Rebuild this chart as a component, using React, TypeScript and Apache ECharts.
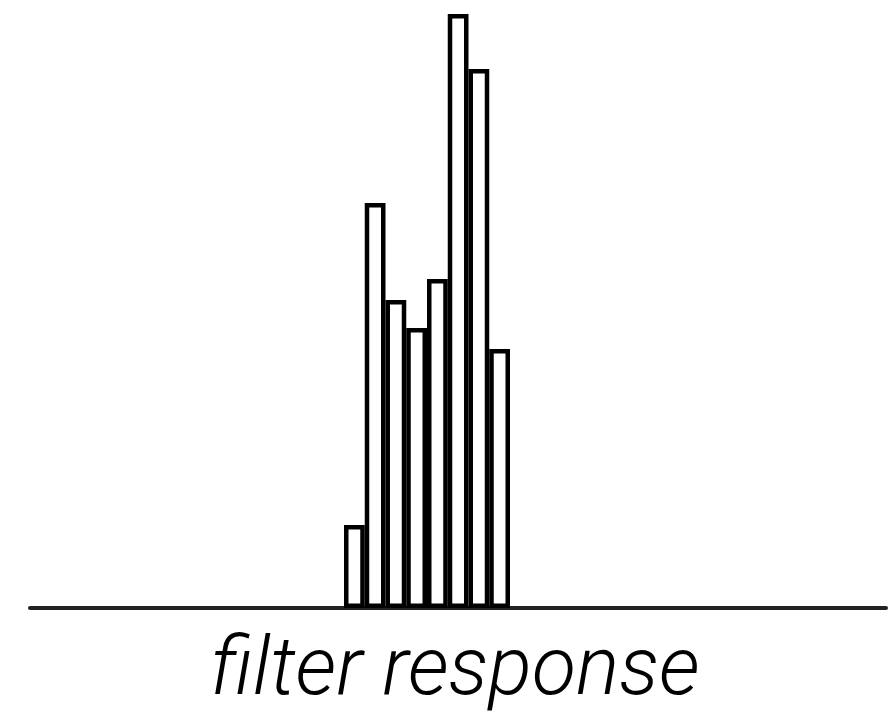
import React, { useEffect, useRef } from "react";
import * as echarts from "echarts";

const bins = ["b1", "b2", "b3", "b4", "b5", "b6", "b7", "b8"];
const counts = [83, 405, 308, 280, 329, 594, 539, 259];
const axisLabel = "filter response";

export default function App() {
  const ref = useRef<HTMLDivElement>(null);
  useEffect(() => {
    document.body.style.margin = "0";
    const chart = echarts.init(ref.current!, null, { renderer: "svg" });
    chart.setOption({
      animation: false,
      backgroundColor: "#ffffff",
      grid: [
        { left: 30, right: 9, top: 8, bottom: 105 },
        { left: 344, width: 166, top: 8, bottom: 105 },
      ],
      xAxis: [
        {
          gridIndex: 0,
          type: "value",
          min: 0,
          max: 1,
          axisLine: { show: true, lineStyle: { color: "#222222", width: 4 } },
          axisTick: { show: false },
          axisLabel: { show: false },
          splitLine: { show: false },
        },
        {
          gridIndex: 1,
          type: "category",
          data: bins,
          show: false,
        },
      ],
      yAxis: [
        { gridIndex: 0, type: "value", show: false, min: 0, max: 600 },
        { gridIndex: 1, type: "value", show: false, min: 0, max: 600 },
      ],
      series: [
        {
          type: "bar",
          xAxisIndex: 1,
          yAxisIndex: 1,
          data: counts,
          barCategoryGap: "0%",
          itemStyle: { color: "#ffffff", borderColor: "#000000", borderWidth: 4.5 },
          z: 3,
        },
      ],
      graphic: [
        {
          type: "text",
          x: 455,
          y: 666,
          style: {
            text: axisLabel,
            font: "italic 300 81px Roboto",
            fill: "#000000",
            textAlign: "center",
            textVerticalAlign: "middle",
            lineHeight: 81,
          },
        },
      ],
    });
    return () => chart.dispose();
  }, []);
  return (
    <div
      ref={ref}
      style={{ position: "absolute", left: 0, top: 0, width: 895, height: 713 }}
    />
  );
}
